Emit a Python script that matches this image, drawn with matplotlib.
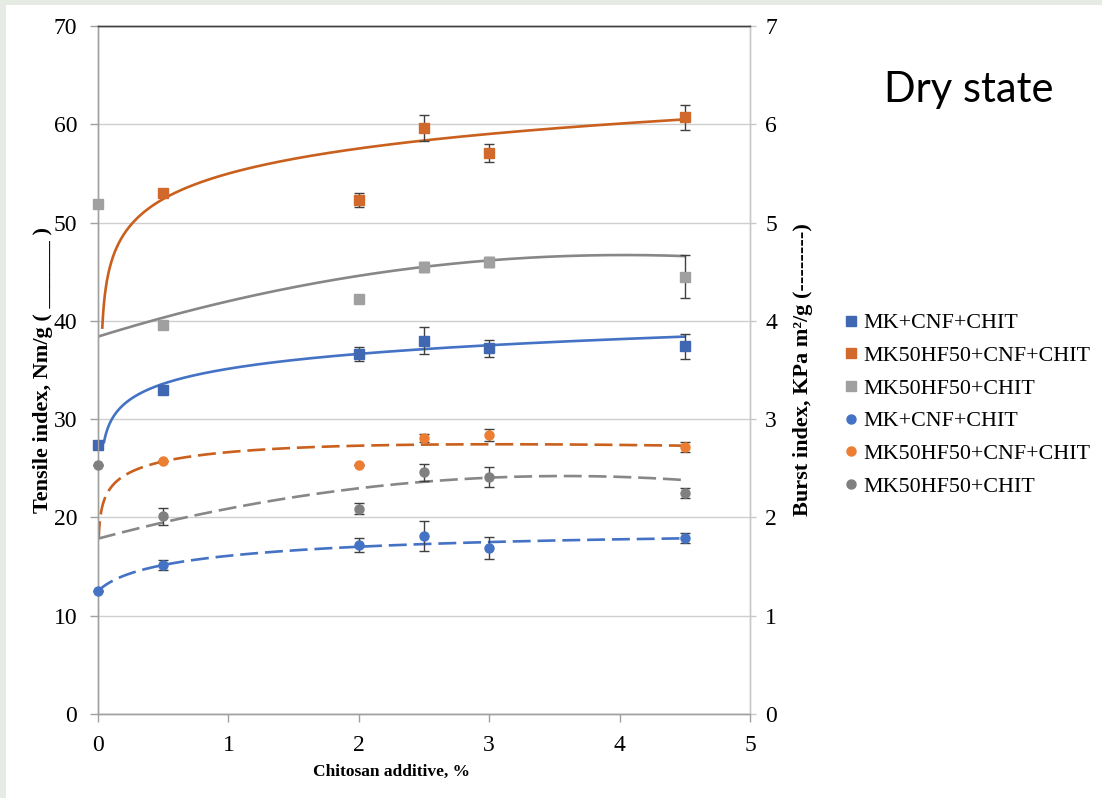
import numpy as np
import matplotlib
matplotlib.use('Agg')
import matplotlib.pyplot as plt
from matplotlib.patches import Rectangle
from matplotlib.lines import Line2D

plt.rcParams['font.family'] = ['Liberation Serif', 'DejaVu Serif']

labels = ['MK+CNF+CHIT', 'MK50HF50+CNF+CHIT', 'MK50HF50+CHIT']

# tensile index, Nm/g (left axis, squares)
x_mk = [0, 0.5, 2, 2.5, 3, 4.5]
tens_mk = [27.4, 33.0, 36.6, 38.0, 37.2, 37.4]
tens_mk_err = [0, 0, 0.7, 1.35, 0.9, 1.3]
x_hf_cnf = [0.5, 2, 2.5, 3, 4.5]
tens_hf_cnf = [53.0, 52.3, 59.6, 57.1, 60.7]
tens_hf_cnf_err = [0, 0.7, 1.3, 0.9, 1.3]
x_hf = [0, 0.5, 2, 2.5, 3, 4.5]
tens_hf = [51.9, 39.6, 42.2, 45.5, 46.0, 44.5]
tens_hf_err = [0, 0, 0, 0.5, 0.5, 2.2]

# burst index, KPa m2/g (right axis, circles)
burst_mk = [1.25, 1.52, 1.72, 1.81, 1.69, 1.79]
burst_mk_err = [0, 0.05, 0.07, 0.15, 0.11, 0.05]
burst_hf_cnf = [2.57, 2.53, 2.81, 2.84, 2.72]
burst_hf_cnf_err = [0, 0, 0.04, 0.06, 0.05]
burst_hf = [2.53, 2.01, 2.09, 2.46, 2.41, 2.25]
burst_hf_err = [0, 0.09, 0.06, 0.085, 0.1, 0.05]

# trendlines: y = a + b*ln(x+k) + c*x + d*x^2, x from x0 to 4.5
# (a, b, k, c, d, x0)
trend_tens_mk = (35.16, 2.158, -0.015, 0, 0, 0.046)
trend_tens_hf_cnf = (55.06, 3.626, -0.02, 0, 0, 0.033)
trend_tens_hf = (38.4, 0, 0, 4.11, -0.509, 0)
trend_burst_mk = (1.608, 0.1816, 0.14, -0.0221, 0, 0)
trend_burst_hf_cnf = (2.722, 0.1779, 0, -0.0577, 0, 0.005)
trend_burst_hf = (1.784, 0, 0, 0.3555, -0.04958, 0)


def trend(p, x_end=4.5):
    a, b, k, c, d, x0 = p
    xs = x0 + (x_end - x0) * np.linspace(0, 1, 800) ** 2
    ys = a + c * xs + d * xs ** 2
    if b:
        ys = ys + b * np.log(xs + k)
    return xs, ys


sq_cols = ['#4068B2', '#D0692B', '#A0A0A0']
ci_cols = ['#4472C4', '#ED7D31', '#808080']
ln_cols = ['#4472C4', '#C9601E', '#878787']

fig = plt.figure(figsize=(11.02, 7.98), dpi=100)
fig.patch.set_facecolor('#E6EBE3')
fig.patches.append(Rectangle((6 / 1102, 0), 1, 1 - 5 / 798, transform=fig.transFigure,
                             facecolor='white', edgecolor='none', zorder=-5))

ax = fig.add_axes([98 / 1102, 84 / 798, 652 / 1102, 688 / 798])
ax2 = ax.twinx()
ax.set_facecolor('none')
ax2.set_facecolor('none')

ekw = dict(ecolor='#404040', elinewidth=1, capsize=3.5, capthick=1, linestyle='none')

# solid trendlines + squares (tensile)
for p, col in zip([trend_tens_mk, trend_tens_hf_cnf, trend_tens_hf], ln_cols):
    xs, ys = trend(p)
    ax.plot(xs, ys, color=col, lw=1.9, zorder=2)
for xv, yv, ev, col in zip([x_mk, x_hf_cnf, x_hf], [tens_mk, tens_hf_cnf, tens_hf],
                           [tens_mk_err, tens_hf_cnf_err, tens_hf_err], sq_cols):
    ax.errorbar(xv, yv, yerr=ev, marker='s', ms=7, mfc=col, mec=col, zorder=3,
                clip_on=False, **ekw)

# dashed trendlines + circles (burst)
for p, col in zip([trend_burst_mk, trend_burst_hf_cnf, trend_burst_hf], ln_cols):
    xs, ys = trend(p)
    ax2.plot(xs, ys, color=col, lw=1.9, linestyle=(0, (6.8, 2.6)), zorder=2)
for xv, yv, ev, col in zip([x_mk, x_hf_cnf, x_hf], [burst_mk, burst_hf_cnf, burst_hf],
                           [burst_mk_err, burst_hf_cnf_err, burst_hf_err], ci_cols):
    ax2.errorbar(xv, yv, yerr=ev, marker='o', ms=6.5, mfc=col, mec=col, zorder=3,
                 clip_on=False, **ekw)

ax.set_xlim(0, 5)
ax.set_ylim(0, 70)
ax2.set_ylim(0, 7)
ax.set_xticks(range(6))
ax.set_yticks(range(0, 71, 10))
ax2.set_yticks(range(8))
ax.yaxis.grid(True, color='#CFCFCF', lw=1)
ax.set_axisbelow(True)

for a in (ax, ax2):
    for s in a.spines.values():
        s.set_linewidth(1)
    a.spines['left'].set_color('#A0A0A0')
    a.spines['bottom'].set_color('#A0A0A0')
    a.spines['right'].set_color('#C8C8C8')
    a.spines['top'].set_color('#404040')

ax.tick_params(axis='both', direction='out', length=6, width=1, color='#A0A0A0',
               labelsize=17, pad=9)
ax2.tick_params(axis='y', direction='out', length=4, width=1, color='#C8C8C8',
                labelsize=17, pad=7)

ax.set_xlabel('Chitosan additive, %', fontsize=12.5, fontweight='bold')
ax.xaxis.set_label_coords(0.45, -0.072)
ax.set_ylabel('Tensile index, Nm/g ( ______ )', fontsize=16, fontweight='bold')
ax.yaxis.set_label_coords(-0.069, 0.5)
ax2.set_ylabel('Burst index, KPa m²/g (--------)', fontsize=16, fontweight='bold')
ax2.yaxis.set_label_coords(1.066, 0.5)

handles = [Line2D([], [], marker='s', ms=7, color=c, ls='none') for c in sq_cols] + \
          [Line2D([], [], marker='o', ms=6.5, color=c, ls='none') for c in ci_cols]
fig.legend(handles, labels + labels, loc='upper left', bbox_to_anchor=(833 / 1102, 1 - 302 / 798),
           frameon=False, fontsize=15.8, handlelength=0.6, handletextpad=0.3,
           labelspacing=0.56, borderpad=0)

fig.text(969 / 1102, 1 - 90 / 798, 'Dry state', ha='center', va='center', fontsize=30,
         family=['Lato', 'DejaVu Sans'])

fig.savefig('out.png', dpi=100, facecolor=fig.get_facecolor())
